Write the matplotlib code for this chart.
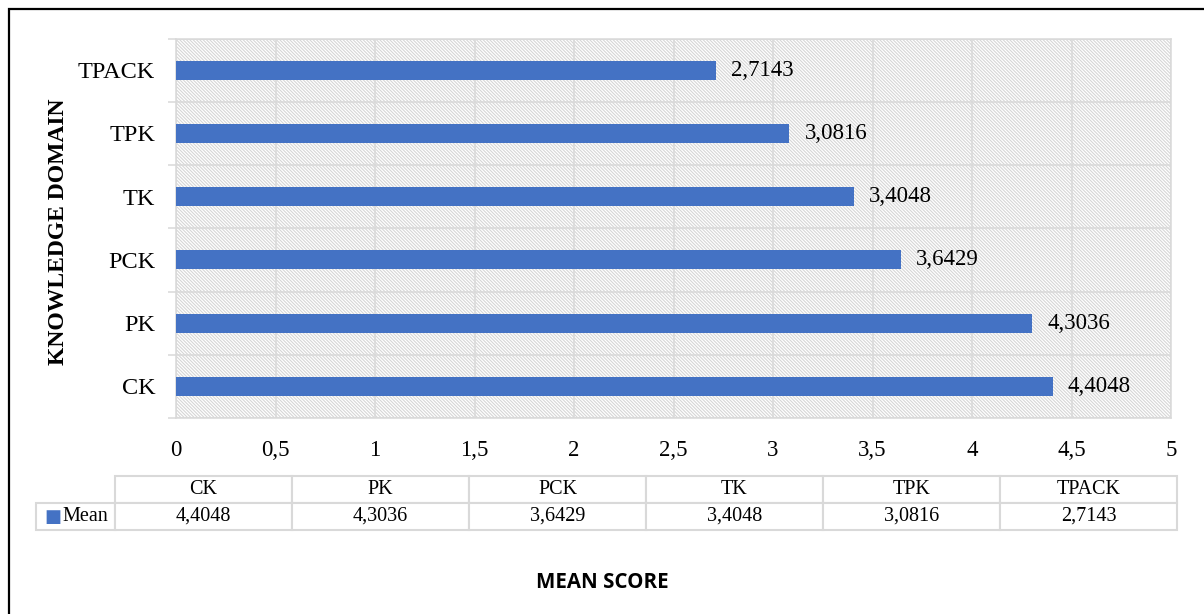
import matplotlib
matplotlib.use('Agg')
import matplotlib.pyplot as plt
import numpy as np
from matplotlib.patches import Rectangle
from matplotlib.ticker import FuncFormatter, FixedLocator

# mean scores per knowledge domain
domains = ['CK', 'PK', 'PCK', 'TK', 'TPK', 'TPACK']
means = [4.4048, 4.3036, 3.6429, 3.4048, 3.0816, 2.7143]
series_name = 'Mean'

BLUE = '#4472C4'
GRID = '#d9d9d9'
SERIF = 'Liberation Serif'

plt.rcParams['font.family'] = SERIF
plt.rcParams['hatch.linewidth'] = 0.8

W, H = 1204, 614
fig = plt.figure(figsize=(W / 100, H / 100), dpi=100)


def px(x0, y0, x1, y1):
    # pixel box -> figure fraction [left, bottom, width, height]
    return [x0 / W, 1 - y1 / H, (x1 - x0) / W, (y1 - y0) / H]


ax = fig.add_axes(px(176, 38.5, 1171, 418))

def comma(v, pos=None):
    return ('%g' % v).replace('.', ',')

# textured plot area
ax.add_patch(Rectangle((0, 0), 1, 1, transform=ax.transAxes, facecolor='white',
                       edgecolor='#d6d6d6', hatch='\\' * 10, lw=0, zorder=0))

y = np.arange(len(domains))
bars = ax.barh(y, means, height=0.3, color=BLUE, zorder=3)
for b, v in zip(bars, means):
    ax.annotate(('%.4f' % v).replace('.', ','), (b.get_width(), b.get_y() + b.get_height() / 2),
                xytext=(11, 0), textcoords='offset points', va='center', ha='left',
                fontsize=16.5, zorder=4)

ax.set_xlim(0, 5)
ax.set_ylim(-0.5, len(domains) - 0.5)
ax.set_xticks(np.arange(0, 5.01, 0.5))
ax.xaxis.set_major_formatter(FuncFormatter(comma))
ax.set_yticks(y)
ax.set_yticklabels(domains)
ax.yaxis.set_minor_locator(FixedLocator(np.arange(-0.5, len(domains), 1.0)))
ax.tick_params(axis='both', which='major', length=0, labelsize=16.5)
ax.tick_params(axis='y', which='major', labelsize=17.5)
ax.tick_params(axis='x', pad=16)
ax.tick_params(axis='y', pad=15)
ax.tick_params(axis='y', which='minor', length=6, color=GRID, width=1.1)
ax.grid(axis='x', which='major', color=GRID, lw=1.1, zorder=1)
ax.grid(axis='y', which='minor', color=GRID, lw=1.1, zorder=1)
ax.set_axisbelow(True)
for s in ax.spines.values():
    s.set_color(GRID)
    s.set_linewidth(1.1)

# data table under the axis
cell_text = [[''] + domains,
             [series_name] + [('%.4f' % v).replace('.', ',') for v in means]]
lab_w, col_w = 79, 177
widths = [lab_w] + [col_w] * len(domains)
ax_w, ax_h = 995, 379.5
tbl = ax.table(cellText=cell_text, colWidths=[w / sum(widths) for w in widths],
               cellLoc='center',
               bbox=[(36 - 176) / ax_w, (418 - 530) / ax_h,
                     sum(widths) / ax_w, 54 / ax_h])
tbl.auto_set_font_size(False)
for (r, c), cell in tbl.get_celld().items():
    cell.set_edgecolor(GRID)
    cell.set_linewidth(1.5)
    cell.get_text().set_fontsize(14.5)
    cell.get_text().set_fontfamily(SERIF)
    if r == 0 and c == 0:
        cell.visible_edges = ''
    if r == 1 and c == 0:
        cell.get_text().set_horizontalalignment('right')
        cell.PAD = 0.08
fig.text(44 / W, 1 - 517.5 / H, '\u25A0', color=BLUE, fontsize=13,
         family='DejaVu Sans', va='center', ha='left')

# axis titles
fig.text(58 / W, 1 - 232 / H, 'KNOWLEDGE DOMAIN', rotation=90, fontsize=17,
         fontweight='bold', family=SERIF, ha='center', va='center')
fig.text(602 / W, 1 - 583 / H, 'MEAN SCORE', fontsize=14.8, fontweight='bold',
         family='Open Sans', ha='center', va='center')

# outer frame (left and top edges visible)
fig.add_artist(Rectangle((8.5 / W, -0.1), 1.2, 1.1 - 9.5 / H, transform=fig.transFigure,
                         fill=False, edgecolor='black', lw=1.6))

fig.savefig('out.png', dpi=100)
